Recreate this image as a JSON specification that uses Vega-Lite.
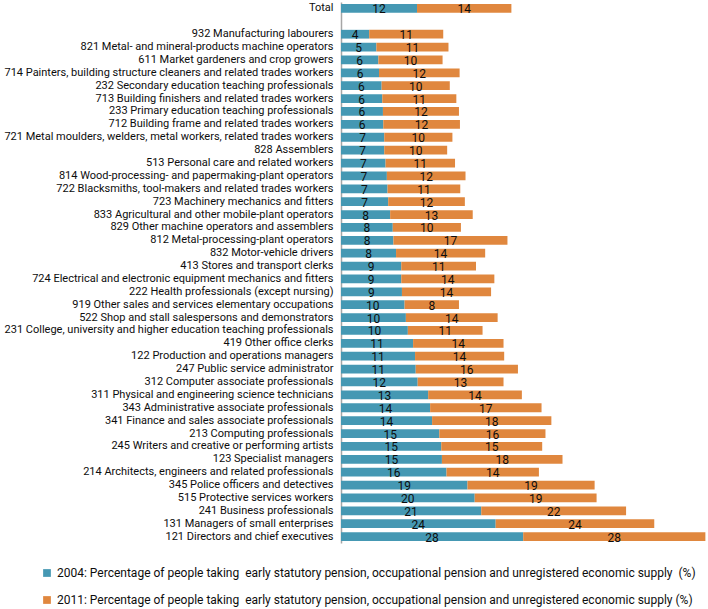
{
  "$schema": "https://vega.github.io/schema/vega-lite/v6.json",
  "width": 367,
  "height": 541,
  "autosize": "none",
  "padding": {"left": 341, "top": 2, "right": 0, "bottom": 66},
  "config": {"font": "Roboto", "view": {"stroke": null}},
  "data": {"values": [
    {"cat": "Total", "year": "2004", "value": 11.6, "label": "12"},
    {"cat": "Total", "year": "2011", "value": 14.4, "label": "14"},
    {"cat": "932 Manufacturing labourers", "year": "2004", "value": 4.3, "label": "4"},
    {"cat": "932 Manufacturing labourers", "year": "2011", "value": 11.3, "label": "11"},
    {"cat": "821 Metal- and mineral-products machine operators", "year": "2004", "value": 5.4, "label": "5"},
    {"cat": "821 Metal- and mineral-products machine operators", "year": "2011", "value": 11.0, "label": "11"},
    {"cat": "611 Market gardeners and crop growers", "year": "2004", "value": 5.7, "label": "6"},
    {"cat": "611 Market gardeners and crop growers", "year": "2011", "value": 9.8, "label": "10"},
    {"cat": "714 Painters, building structure cleaners and related trades workers", "year": "2004", "value": 5.8, "label": "6"},
    {"cat": "714 Painters, building structure cleaners and related trades workers", "year": "2011", "value": 12.3, "label": "12"},
    {"cat": "232 Secondary education teaching professionals", "year": "2004", "value": 6.2, "label": "6"},
    {"cat": "232 Secondary education teaching professionals", "year": "2011", "value": 10.4, "label": "10"},
    {"cat": "713 Building finishers and related trades workers", "year": "2004", "value": 6.3, "label": "6"},
    {"cat": "713 Building finishers and related trades workers", "year": "2011", "value": 11.3, "label": "11"},
    {"cat": "233 Primary education teaching professionals", "year": "2004", "value": 6.4, "label": "6"},
    {"cat": "233 Primary education teaching professionals", "year": "2011", "value": 11.6, "label": "12"},
    {"cat": "712 Building frame and related trades workers", "year": "2004", "value": 6.45, "label": "6"},
    {"cat": "712 Building frame and related trades workers", "year": "2011", "value": 11.7, "label": "12"},
    {"cat": "721 Metal moulders, welders, metal workers, related trades workers", "year": "2004", "value": 6.6, "label": "7"},
    {"cat": "721 Metal moulders, welders, metal workers, related trades workers", "year": "2011", "value": 10.4, "label": "10"},
    {"cat": "828 Assemblers", "year": "2004", "value": 6.6, "label": "7"},
    {"cat": "828 Assemblers", "year": "2011", "value": 9.6, "label": "10"},
    {"cat": "513 Personal care and related workers", "year": "2004", "value": 6.8, "label": "7"},
    {"cat": "513 Personal care and related workers", "year": "2011", "value": 10.6, "label": "11"},
    {"cat": "814 Wood-processing- and papermaking-plant operators", "year": "2004", "value": 7.0, "label": "7"},
    {"cat": "814 Wood-processing- and papermaking-plant operators", "year": "2011", "value": 12.0, "label": "12"},
    {"cat": "722 Blacksmiths, tool-makers and related trades workers", "year": "2004", "value": 7.1, "label": "7"},
    {"cat": "722 Blacksmiths, tool-makers and related trades workers", "year": "2011", "value": 11.1, "label": "11"},
    {"cat": "723 Machinery mechanics and fitters", "year": "2004", "value": 7.2, "label": "7"},
    {"cat": "723 Machinery mechanics and fitters", "year": "2011", "value": 11.7, "label": "12"},
    {"cat": "833 Agricultural and other mobile-plant operators", "year": "2004", "value": 7.5, "label": "8"},
    {"cat": "833 Agricultural and other mobile-plant operators", "year": "2011", "value": 12.6, "label": "13"},
    {"cat": "829 Other machine operators and assemblers", "year": "2004", "value": 7.9, "label": "8"},
    {"cat": "829 Other machine operators and assemblers", "year": "2011", "value": 10.4, "label": "10"},
    {"cat": "812 Metal-processing-plant operators", "year": "2004", "value": 8.0, "label": "8"},
    {"cat": "812 Metal-processing-plant operators", "year": "2011", "value": 17.4, "label": "17"},
    {"cat": "832 Motor-vehicle drivers", "year": "2004", "value": 8.4, "label": "8"},
    {"cat": "832 Motor-vehicle drivers", "year": "2011", "value": 13.6, "label": "14"},
    {"cat": "413 Stores and transport clerks", "year": "2004", "value": 9.2, "label": "9"},
    {"cat": "413 Stores and transport clerks", "year": "2011", "value": 11.4, "label": "11"},
    {"cat": "724 Electrical and electronic equipment mechanics and fitters", "year": "2004", "value": 9.2, "label": "9"},
    {"cat": "724 Electrical and electronic equipment mechanics and fitters", "year": "2011", "value": 14.2, "label": "14"},
    {"cat": "222 Health professionals (except nursing)", "year": "2004", "value": 9.3, "label": "9"},
    {"cat": "222 Health professionals (except nursing)", "year": "2011", "value": 13.6, "label": "14"},
    {"cat": "919 Other sales and services elementary occupations", "year": "2004", "value": 9.7, "label": "10"},
    {"cat": "919 Other sales and services elementary occupations", "year": "2011", "value": 8.3, "label": "8"},
    {"cat": "522 Shop and stall salespersons and demonstrators", "year": "2004", "value": 9.9, "label": "10"},
    {"cat": "522 Shop and stall salespersons and demonstrators", "year": "2011", "value": 14.0, "label": "14"},
    {"cat": "231 College, university and higher education teaching professionals", "year": "2004", "value": 10.2, "label": "10"},
    {"cat": "231 College, university and higher education teaching professionals", "year": "2011", "value": 11.4, "label": "11"},
    {"cat": "419 Other office clerks", "year": "2004", "value": 11.0, "label": "11"},
    {"cat": "419 Other office clerks", "year": "2011", "value": 13.8, "label": "14"},
    {"cat": "122 Production and operations managers", "year": "2004", "value": 11.3, "label": "11"},
    {"cat": "122 Production and operations managers", "year": "2011", "value": 13.6, "label": "14"},
    {"cat": "247 Public service administrator", "year": "2004", "value": 11.4, "label": "11"},
    {"cat": "247 Public service administrator", "year": "2011", "value": 15.6, "label": "16"},
    {"cat": "312 Computer associate professionals", "year": "2004", "value": 11.7, "label": "12"},
    {"cat": "312 Computer associate professionals", "year": "2011", "value": 13.1, "label": "13"},
    {"cat": "311 Physical and engineering science technicians", "year": "2004", "value": 13.3, "label": "13"},
    {"cat": "311 Physical and engineering science technicians", "year": "2011", "value": 14.3, "label": "14"},
    {"cat": "343 Administrative associate professionals", "year": "2004", "value": 13.6, "label": "14"},
    {"cat": "343 Administrative associate professionals", "year": "2011", "value": 17.0, "label": "17"},
    {"cat": "341 Finance and sales associate professionals", "year": "2004", "value": 13.9, "label": "14"},
    {"cat": "341 Finance and sales associate professionals", "year": "2011", "value": 18.2, "label": "18"},
    {"cat": "213 Computing professionals", "year": "2004", "value": 15.0, "label": "15"},
    {"cat": "213 Computing professionals", "year": "2011", "value": 16.2, "label": "16"},
    {"cat": "245 Writers and creative or performing artists", "year": "2004", "value": 15.3, "label": "15"},
    {"cat": "245 Writers and creative or performing artists", "year": "2011", "value": 15.4, "label": "15"},
    {"cat": "123 Specialist managers", "year": "2004", "value": 15.4, "label": "15"},
    {"cat": "123 Specialist managers", "year": "2011", "value": 18.4, "label": "18"},
    {"cat": "214 Architects, engineers and related professionals", "year": "2004", "value": 16.1, "label": "16"},
    {"cat": "214 Architects, engineers and related professionals", "year": "2011", "value": 14.1, "label": "14"},
    {"cat": "345 Police officers and detectives", "year": "2004", "value": 19.3, "label": "19"},
    {"cat": "345 Police officers and detectives", "year": "2011", "value": 19.4, "label": "19"},
    {"cat": "515 Protective services workers", "year": "2004", "value": 20.4, "label": "20"},
    {"cat": "515 Protective services workers", "year": "2011", "value": 18.6, "label": "19"},
    {"cat": "241 Business professionals", "year": "2004", "value": 21.4, "label": "21"},
    {"cat": "241 Business professionals", "year": "2011", "value": 22.1, "label": "22"},
    {"cat": "131 Managers of small enterprises", "year": "2004", "value": 23.6, "label": "24"},
    {"cat": "131 Managers of small enterprises", "year": "2011", "value": 24.2, "label": "24"},
    {"cat": "121 Directors and chief executives", "year": "2004", "value": 27.8, "label": "28"},
    {"cat": "121 Directors and chief executives", "year": "2011", "value": 27.8, "label": "28"}
  ]},
  "transform": [
    {"stack": "value", "groupby": ["cat"], "sort": [{"field": "year", "order": "ascending"}], "as": ["x0", "x1"]}
  ],
  "encoding": {
    "y": {
      "field": "cat", "type": "nominal", "title": null,
      "scale": {
        "domain": ["Total", "", "932 Manufacturing labourers", "821 Metal- and mineral-products machine operators", "611 Market gardeners and crop growers", "714 Painters, building structure cleaners and related trades workers", "232 Secondary education teaching professionals", "713 Building finishers and related trades workers", "233 Primary education teaching professionals", "712 Building frame and related trades workers", "721 Metal moulders, welders, metal workers, related trades workers", "828 Assemblers", "513 Personal care and related workers", "814 Wood-processing- and papermaking-plant operators", "722 Blacksmiths, tool-makers and related trades workers", "723 Machinery mechanics and fitters", "833 Agricultural and other mobile-plant operators", "829 Other machine operators and assemblers", "812 Metal-processing-plant operators", "832 Motor-vehicle drivers", "413 Stores and transport clerks", "724 Electrical and electronic equipment mechanics and fitters", "222 Health professionals (except nursing)", "919 Other sales and services elementary occupations", "522 Shop and stall salespersons and demonstrators", "231 College, university and higher education teaching professionals", "419 Other office clerks", "122 Production and operations managers", "247 Public service administrator", "312 Computer associate professionals", "311 Physical and engineering science technicians", "343 Administrative associate professionals", "341 Finance and sales associate professionals", "213 Computing professionals", "245 Writers and creative or performing artists", "123 Specialist managers", "214 Architects, engineers and related professionals", "345 Police officers and detectives", "515 Protective services workers", "241 Business professionals", "131 Managers of small enterprises", "121 Directors and chief executives"],
        "paddingInner": 0.32,
        "paddingOuter": 0.16
      },
      "axis": {
        "ticks": false,
        "domainColor": "#a6a6a6",
        "domainWidth": 1.5,
        "labelFontSize": 11,
        "labelColor": "#0d0d0d",
        "labelPadding": 8,
        "labelLimit": 400
      }
    }
  },
  "layer": [
    {
      "mark": {"type": "bar"},
      "encoding": {
        "x": {"field": "x0", "type": "quantitative", "scale": {"domain": [0, 56], "nice": false}, "axis": null},
        "x2": {"field": "x1"},
        "color": {
          "field": "year", "type": "nominal",
          "scale": {"domain": ["2004", "2011"], "range": ["#4598b3", "#e0873e"]},
          "legend": {
            "orient": "none",
            "legendX": -300,
            "legendY": 565,
            "direction": "vertical",
            "title": null,
            "symbolType": "square",
            "symbolSize": 60,
            "rowPadding": 15,
            "labelFontSize": 12,
            "labelColor": "#0d0d0d",
            "labelLimit": 700,
            "labelExpr": "datum.label == '2004' ? '2004: Percentage of people taking \u00a0early statutory pension, occupational pension and unregistered economic supply \u00a0(%)' : '2011: Percentage of people taking \u00a0early statutory pension, occupational pension and unregistered economic supply (%)'"
          }
        }
      }
    },
    {
      "transform": [
        {"fold": ["x0", "x1"], "as": ["edge", "pos"]},
        {"aggregate": [{"op": "mean", "field": "pos", "as": "mid"}], "groupby": ["cat", "year", "label"]}
      ],
      "mark": {"type": "text", "fontSize": 12, "color": "#0d0d0d", "baseline": "middle", "dy": 1},
      "encoding": {
        "x": {"field": "mid", "type": "quantitative"},
        "text": {"field": "label"}
      }
    }
  ]
}
